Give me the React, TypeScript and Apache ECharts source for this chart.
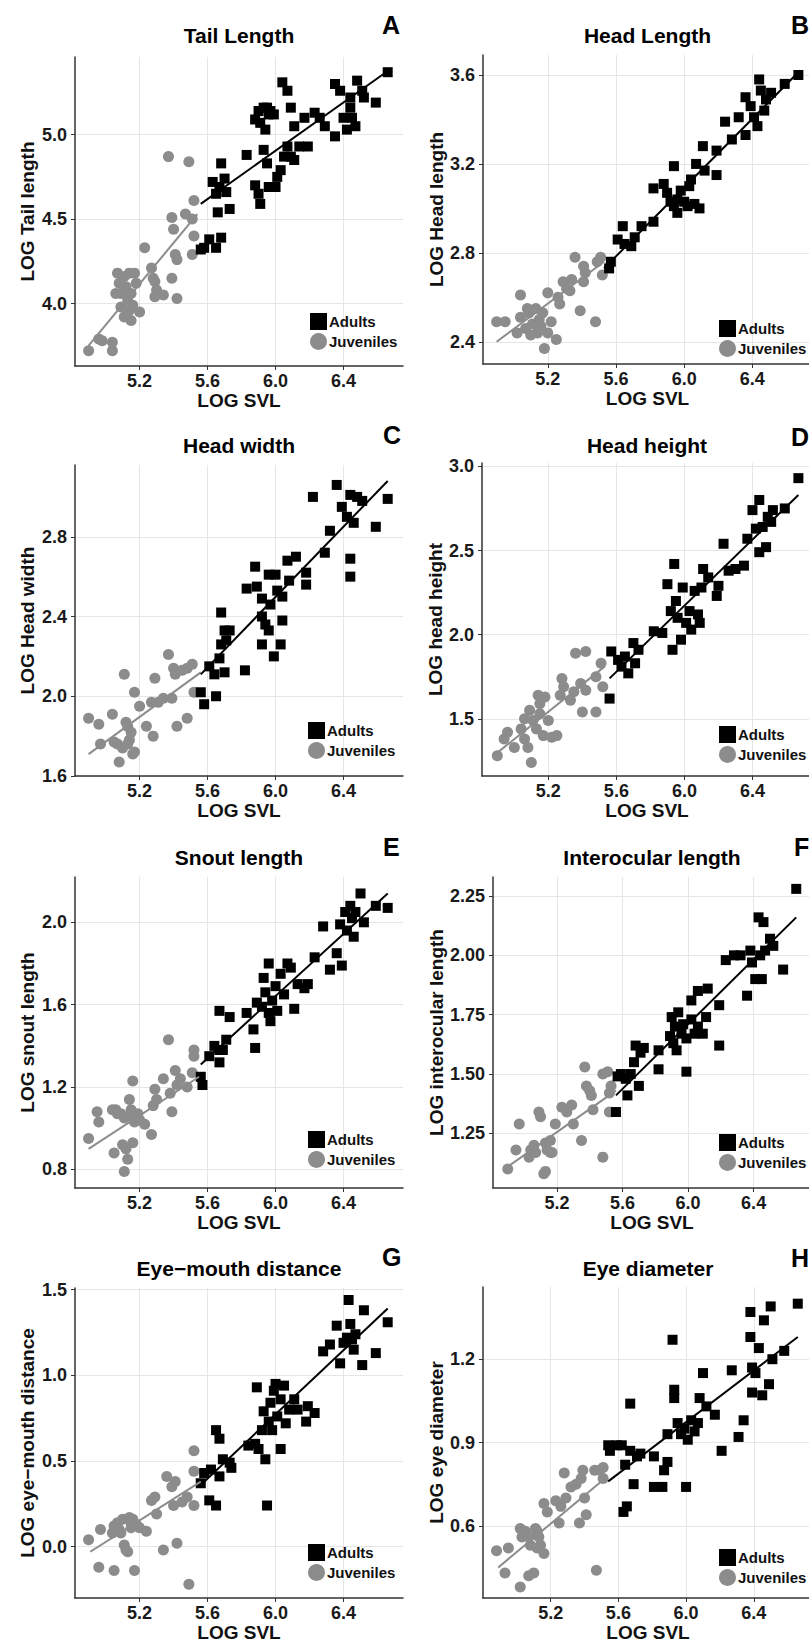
import React, { useEffect, useRef } from 'react';
import * as echarts from 'echarts';

// ---------- DATA (LOG SVL, LOG trait) ----------
const svlTicks = [5.2, 5.6, 6.0, 6.4];

const tailTicks = [4.0, 4.5, 5.0];
const tailJuveniles = [[4.90,3.72],[4.96,3.79],[4.98,3.78],[5.04,3.77],[5.04,3.72],[5.07,4.18],[5.08,4.12],[5.09,4.06],[5.11,4.16],[5.12,4.10],[5.06,4.06],[5.13,4.02],[5.09,3.98],[5.11,3.92],[5.14,3.96],[5.15,3.90],[5.16,3.99],[5.17,4.18],[5.18,4.12],[5.20,3.95],[5.14,4.18],[5.15,4.06],[5.23,4.33],[5.27,4.21],[5.28,4.15],[5.29,4.13],[5.30,4.08],[5.29,4.04],[5.34,4.05],[5.37,4.87],[5.39,4.51],[5.40,4.44],[5.41,4.29],[5.42,4.26],[5.39,4.15],[5.42,4.03],[5.47,4.53],[5.49,4.84],[5.51,4.50],[5.52,4.61],[5.52,4.40],[5.51,4.29]];
const tailAdults = [[5.56,4.32],[5.58,4.33],[5.61,4.38],[5.65,4.33],[5.68,4.39],[5.66,4.54],[5.73,4.56],[5.63,4.72],[5.67,4.69],[5.70,4.74],[5.71,4.66],[5.68,4.83],[5.65,4.65],[5.83,4.88],[5.88,4.70],[5.90,4.65],[5.91,4.59],[5.93,4.91],[5.95,4.83],[5.96,4.69],[6.00,4.69],[6.01,4.75],[6.03,4.79],[6.05,4.87],[6.07,4.93],[6.09,4.87],[6.11,4.85],[6.14,4.93],[6.19,4.93],[5.88,5.09],[5.90,5.14],[5.93,5.16],[5.95,5.16],[5.97,5.14],[5.91,5.07],[5.94,5.03],[5.96,5.12],[5.99,5.12],[6.04,5.31],[6.07,5.26],[6.09,5.16],[6.11,5.05],[6.17,5.10],[6.23,5.13],[6.26,5.10],[6.29,5.05],[6.35,4.99],[6.35,5.30],[6.38,5.26],[6.40,5.10],[6.42,5.03],[6.44,5.22],[6.44,5.16],[6.45,5.10],[6.47,5.05],[6.48,5.32],[6.51,5.26],[6.52,5.22],[6.59,5.19],[6.66,5.37]];
const tailJuvLine = [[4.90,3.75],[5.54,4.53]];
const tailAdultLine = [[5.56,4.59],[6.65,5.37]];

const headLengthTicks = [2.4, 2.8, 3.2, 3.6];
const headLengthJuveniles = [[4.90,2.49],[4.95,2.49],[5.04,2.61],[5.04,2.51],[5.07,2.46],[5.09,2.53],[5.11,2.48],[5.13,2.55],[5.14,2.44],[5.15,2.50],[5.17,2.53],[5.18,2.37],[5.20,2.62],[5.20,2.44],[5.25,2.41],[5.26,2.60],[5.27,2.57],[5.29,2.67],[5.31,2.64],[5.34,2.68],[5.36,2.78],[5.39,2.54],[5.41,2.67],[5.42,2.71],[5.41,2.74],[5.48,2.49],[5.49,2.76],[5.51,2.78],[5.52,2.70],[5.02,2.44],[5.10,2.43],[5.16,2.47],[5.08,2.55],[5.22,2.49],[5.33,2.63]];
const headLengthAdults = [[5.56,2.73],[5.57,2.76],[5.61,2.86],[5.64,2.92],[5.65,2.84],[5.69,2.83],[5.71,2.87],[5.75,2.92],[5.82,2.94],[5.82,3.09],[5.88,3.11],[5.90,3.07],[5.92,3.03],[5.94,3.19],[5.94,3.01],[5.96,3.04],[5.98,3.08],[6.00,3.03],[6.03,3.10],[6.04,3.13],[6.06,3.02],[6.09,3.00],[6.07,3.20],[6.11,3.28],[6.12,3.17],[6.19,3.15],[6.19,3.26],[6.24,3.39],[6.28,3.31],[6.32,3.41],[6.36,3.33],[6.36,3.50],[6.39,3.46],[6.41,3.41],[6.44,3.58],[6.45,3.53],[6.47,3.44],[6.48,3.49],[6.51,3.52],[6.59,3.56],[6.67,3.60],[6.43,3.37],[5.96,2.98],[6.02,3.01]];
const headLengthJuvLine = [[4.90,2.40],[5.53,2.76]];
const headLengthAdultLine = [[5.53,2.73],[6.68,3.62]];

const headWidthTicks = [1.6, 2.0, 2.4, 2.8];
const headWidthJuveniles = [[4.90,1.89],[4.96,1.86],[4.97,1.76],[5.04,1.91],[5.05,1.77],[5.08,1.67],[5.10,1.74],[5.11,2.11],[5.12,1.87],[5.13,1.85],[5.14,1.78],[5.16,1.71],[5.17,1.72],[5.17,2.02],[5.20,1.95],[5.24,1.85],[5.28,1.80],[5.29,2.09],[5.27,1.97],[5.31,1.97],[5.34,1.99],[5.37,2.21],[5.39,1.99],[5.40,2.14],[5.41,2.11],[5.42,1.85],[5.45,2.13],[5.48,1.89],[5.51,2.16],[5.52,2.02],[5.48,2.14],[5.07,1.76],[5.15,1.82],[5.13,1.76]];
const headWidthAdults = [[5.56,2.02],[5.58,1.96],[5.61,2.15],[5.64,2.11],[5.65,2.00],[5.67,2.19],[5.68,2.42],[5.68,2.26],[5.70,2.33],[5.73,2.33],[5.71,2.28],[5.70,2.12],[5.82,2.13],[5.83,2.54],[5.88,2.65],[5.89,2.55],[5.92,2.49],[5.92,2.26],[5.92,2.40],[5.94,2.36],[5.96,2.33],[5.96,2.61],[5.97,2.46],[5.99,2.20],[6.00,2.61],[6.03,2.26],[6.04,2.38],[6.04,2.50],[6.07,2.68],[6.08,2.58],[6.12,2.70],[6.18,2.62],[6.18,2.56],[6.22,3.00],[6.29,2.72],[6.32,2.83],[6.36,3.06],[6.39,2.95],[6.42,2.90],[6.44,2.69],[6.44,2.60],[6.46,2.87],[6.44,3.01],[6.48,3.00],[6.51,2.98],[6.59,2.85],[6.66,2.99],[6.01,2.53]];
const headWidthJuvLine = [[4.90,1.71],[5.56,2.12]];
const headWidthAdultLine = [[5.56,2.11],[6.66,3.08]];

const headHeightTicks = [1.5, 2.0, 2.5, 3.0];
const headHeightJuveniles = [[4.90,1.28],[4.96,1.42],[4.94,1.38],[5.00,1.33],[5.04,1.44],[5.06,1.38],[5.08,1.33],[5.10,1.24],[5.09,1.55],[5.11,1.49],[5.13,1.44],[5.14,1.64],[5.15,1.53],[5.17,1.40],[5.18,1.63],[5.20,1.49],[5.25,1.40],[5.27,1.64],[5.28,1.74],[5.29,1.69],[5.33,1.61],[5.35,1.66],[5.36,1.89],[5.39,1.71],[5.40,1.54],[5.42,1.90],[5.42,1.67],[5.48,1.54],[5.48,1.75],[5.51,1.83],[5.52,1.69],[5.06,1.50],[5.15,1.59],[5.22,1.39]];
const headHeightAdults = [[5.56,1.62],[5.57,1.90],[5.61,1.85],[5.63,1.81],[5.65,1.87],[5.67,1.77],[5.70,1.95],[5.71,1.83],[5.73,1.91],[5.82,2.02],[5.87,2.01],[5.90,2.30],[5.92,2.14],[5.93,1.91],[5.94,2.42],[5.95,2.20],[5.96,2.10],[5.98,1.97],[5.99,2.28],[6.01,2.07],[6.03,2.14],[6.04,2.03],[6.06,2.26],[6.08,2.12],[6.09,2.07],[6.10,2.28],[6.11,2.39],[6.14,2.34],[6.19,2.23],[6.23,2.54],[6.26,2.38],[6.30,2.39],[6.35,2.41],[6.37,2.57],[6.40,2.74],[6.42,2.63],[6.44,2.80],[6.44,2.49],[6.46,2.64],[6.48,2.52],[6.49,2.70],[6.51,2.67],[6.52,2.74],[6.59,2.75],[6.67,2.93],[6.20,2.29]];
const headHeightJuvLine = [[4.89,1.29],[5.53,1.81]];
const headHeightAdultLine = [[5.56,1.74],[6.67,2.83]];

const snoutTicks = [0.8, 1.2, 1.6, 2.0];
const snoutJuveniles = [[4.90,0.95],[4.95,1.08],[4.96,1.03],[5.04,1.09],[5.05,0.88],[5.06,1.09],[5.09,1.07],[5.10,0.92],[5.11,0.79],[5.12,0.90],[5.13,0.85],[5.14,1.14],[5.14,1.06],[5.15,1.09],[5.16,1.23],[5.16,0.93],[5.17,1.03],[5.19,1.07],[5.23,1.02],[5.27,0.97],[5.28,1.11],[5.29,1.19],[5.30,1.14],[5.34,1.24],[5.37,1.43],[5.38,1.17],[5.39,1.08],[5.41,1.28],[5.42,1.21],[5.44,1.24],[5.48,1.20],[5.51,1.27],[5.52,1.38],[5.52,1.35],[5.07,1.07],[5.20,1.04],[5.11,1.05]];
const snoutAdults = [[5.56,1.25],[5.57,1.21],[5.61,1.35],[5.64,1.40],[5.67,1.38],[5.67,1.32],[5.67,1.57],[5.69,1.38],[5.73,1.54],[5.71,1.43],[5.83,1.56],[5.87,1.48],[5.88,1.39],[5.89,1.61],[5.92,1.59],[5.93,1.73],[5.94,1.66],[5.96,1.80],[5.96,1.56],[5.97,1.52],[5.98,1.62],[6.00,1.69],[6.01,1.57],[6.03,1.75],[6.05,1.65],[6.07,1.80],[6.09,1.78],[6.11,1.58],[6.13,1.70],[6.17,1.68],[6.19,1.70],[6.23,1.83],[6.28,1.98],[6.32,1.77],[6.36,1.85],[6.39,1.79],[6.38,1.99],[6.41,2.05],[6.42,1.96],[6.44,2.08],[6.46,1.93],[6.47,2.05],[6.50,2.14],[6.52,2.00],[6.59,2.08],[6.66,2.07],[6.45,2.02]];
const snoutJuvLine = [[4.90,0.90],[5.55,1.25]];
const snoutAdultLine = [[5.56,1.31],[6.66,2.14]];

const interocularTicks = [1.25, 1.5, 1.75, 2.0, 2.25];
const interocularJuveniles = [[4.90,1.10],[4.95,1.18],[4.97,1.29],[5.03,1.15],[5.04,1.18],[5.07,1.17],[5.09,1.34],[5.10,1.32],[5.12,1.08],[5.13,1.21],[5.14,1.18],[5.16,1.17],[5.16,1.22],[5.17,1.17],[5.19,1.29],[5.23,1.36],[5.26,1.34],[5.29,1.37],[5.30,1.29],[5.35,1.22],[5.37,1.53],[5.38,1.45],[5.40,1.43],[5.41,1.41],[5.42,1.35],[5.48,1.15],[5.48,1.50],[5.51,1.51],[5.52,1.34],[5.53,1.45],[5.52,1.42],[5.06,1.20],[5.13,1.09]];
const interocularAdults = [[5.56,1.34],[5.57,1.49],[5.59,1.50],[5.62,1.48],[5.63,1.41],[5.65,1.50],[5.67,1.55],[5.68,1.62],[5.70,1.45],[5.71,1.59],[5.73,1.61],[5.82,1.60],[5.82,1.52],[5.89,1.66],[5.90,1.74],[5.91,1.63],[5.92,1.70],[5.93,1.60],[5.94,1.76],[5.96,1.67],[5.97,1.71],[5.99,1.51],[5.99,1.65],[6.02,1.81],[6.02,1.73],[6.04,1.67],[6.06,1.85],[6.06,1.70],[6.09,1.67],[6.11,1.74],[6.12,1.86],[6.19,1.79],[6.19,1.62],[6.23,1.98],[6.28,2.00],[6.32,2.00],[6.36,1.83],[6.38,2.02],[6.39,1.97],[6.41,1.90],[6.43,2.16],[6.45,1.90],[6.46,2.14],[6.47,2.02],[6.50,2.07],[6.52,2.04],[6.58,1.94],[6.66,2.28],[6.44,2.00]];
const interocularJuvLine = [[4.90,1.11],[5.56,1.43]];
const interocularAdultLine = [[5.56,1.41],[6.66,2.16]];

const eyeMouthTicks = [0.0, 0.5, 1.0, 1.5];
const eyeMouthJuveniles = [[4.90,0.04],[4.96,-0.12],[4.97,0.10],[5.05,-0.14],[5.04,0.08],[5.07,0.14],[5.08,0.10],[5.10,0.16],[5.11,0.01],[5.12,-0.02],[5.13,-0.03],[5.14,0.17],[5.15,0.11],[5.16,0.16],[5.17,-0.14],[5.18,0.13],[5.20,0.11],[5.24,0.09],[5.27,0.27],[5.29,0.29],[5.30,0.19],[5.34,-0.02],[5.36,0.41],[5.39,0.35],[5.40,0.24],[5.41,0.38],[5.42,0.02],[5.45,0.26],[5.48,0.29],[5.49,-0.22],[5.52,0.56],[5.52,0.44],[5.52,0.24],[5.09,0.08],[5.15,0.14],[5.05,0.12]];
const eyeMouthAdults = [[5.56,0.37],[5.58,0.43],[5.61,0.27],[5.62,0.45],[5.65,0.24],[5.65,0.68],[5.67,0.63],[5.67,0.41],[5.69,0.51],[5.73,0.49],[5.74,0.46],[5.84,0.59],[5.88,0.60],[5.89,0.93],[5.90,0.57],[5.92,0.68],[5.93,0.79],[5.94,0.51],[5.95,0.24],[5.96,0.73],[5.97,0.84],[5.98,0.68],[5.99,0.91],[6.00,0.95],[6.01,0.76],[6.03,0.57],[6.03,0.86],[6.05,0.94],[6.06,0.72],[6.08,0.80],[6.11,0.86],[6.13,0.80],[6.18,0.73],[6.19,0.82],[6.23,0.78],[6.28,1.14],[6.32,1.18],[6.36,1.29],[6.38,1.07],[6.40,1.19],[6.42,1.22],[6.43,1.44],[6.44,1.30],[6.46,1.15],[6.47,1.24],[6.51,1.06],[6.52,1.38],[6.59,1.13],[6.66,1.31],[6.45,1.21]];
const eyeMouthJuvLine = [[4.91,-0.03],[5.56,0.38]];
const eyeMouthAdultLine = [[5.56,0.36],[6.66,1.39]];

const eyeDiameterTicks = [0.6, 0.9, 1.2];
const eyeDiameterJuveniles = [[4.88,0.51],[4.93,0.43],[4.95,0.52],[5.02,0.38],[5.02,0.59],[5.03,0.56],[5.05,0.58],[5.07,0.42],[5.08,0.53],[5.10,0.43],[5.11,0.59],[5.12,0.52],[5.13,0.56],[5.14,0.53],[5.16,0.50],[5.16,0.68],[5.18,0.65],[5.23,0.69],[5.25,0.61],[5.26,0.67],[5.28,0.79],[5.29,0.70],[5.32,0.74],[5.35,0.75],[5.37,0.61],[5.38,0.77],[5.39,0.80],[5.40,0.70],[5.41,0.64],[5.47,0.44],[5.46,0.80],[5.49,0.80],[5.51,0.81],[5.51,0.77],[5.07,0.56],[5.12,0.58]];
const eyeDiameterAdults = [[5.54,0.89],[5.55,0.87],[5.59,0.89],[5.62,0.89],[5.63,0.65],[5.65,0.67],[5.64,0.82],[5.67,1.04],[5.67,0.87],[5.69,0.75],[5.71,0.85],[5.73,0.86],[5.81,0.85],[5.81,0.74],[5.86,0.74],[5.87,0.80],[5.89,0.83],[5.89,0.93],[5.92,1.27],[5.93,1.09],[5.93,1.06],[5.95,0.97],[5.97,0.93],[5.99,0.95],[6.00,0.74],[6.01,0.91],[6.03,0.98],[6.05,0.94],[6.07,0.97],[6.08,1.06],[6.10,1.15],[6.12,1.03],[6.17,1.00],[6.21,0.87],[6.27,1.16],[6.31,0.92],[6.34,0.98],[6.38,1.37],[6.38,1.28],[6.39,1.08],[6.41,1.15],[6.43,1.24],[6.45,1.07],[6.46,1.34],[6.49,1.11],[6.50,1.39],[6.51,1.20],[6.58,1.23],[6.66,1.40],[6.39,1.17]];
const eyeDiameterJuvLine = [[4.89,0.45],[5.52,0.77]];
const eyeDiameterAdultLine = [[5.54,0.76],[6.66,1.28]];

// ---------- PANEL SETUP ----------
const panels = [
  { letter: 'A', title: 'Tail Length', yName: 'LOG Tail length', juv: tailJuveniles, adu: tailAdults, juvLine: tailJuvLine, aduLine: tailAdultLine, yTicks: tailTicks, dec: 1,
    box: [75, 57, 328, 309], x: [4.82, 6.75], y: [3.63, 5.46], titleY: 35, letterPos: [382, 25], legendPos: [310, 313], yNameGap: 38 },
  { letter: 'B', title: 'Head Length', yName: 'LOG Head length', juv: headLengthJuveniles, adu: headLengthAdults, juvLine: headLengthJuvLine, aduLine: headLengthAdultLine, yTicks: headLengthTicks, dec: 1,
    box: [483, 55, 329, 309], x: [4.82, 6.75], y: [2.30, 3.69], titleY: 35, letterPos: [791, 25], legendPos: [719, 320], yNameGap: 37 },
  { letter: 'C', title: 'Head width', yName: 'LOG Head width', juv: headWidthJuveniles, adu: headWidthAdults, juvLine: headWidthJuvLine, aduLine: headWidthAdultLine, yTicks: headWidthTicks, dec: 1,
    box: [75, 465, 328, 311], x: [4.82, 6.75], y: [1.6, 3.16], titleY: 445, letterPos: [383, 435], legendPos: [308, 722], yNameGap: 38 },
  { letter: 'D', title: 'Head height', yName: 'LOG head height', juv: headHeightJuveniles, adu: headHeightAdults, juvLine: headHeightJuvLine, aduLine: headHeightAdultLine, yTicks: headHeightTicks, dec: 1,
    box: [482, 463, 330, 313], x: [4.81, 6.75], y: [1.16, 3.02], titleY: 445, letterPos: [791, 437], legendPos: [719, 726], yNameGap: 36 },
  { letter: 'E', title: 'Snout length', yName: 'LOG snout length', juv: snoutJuveniles, adu: snoutAdults, juvLine: snoutJuvLine, aduLine: snoutAdultLine, yTicks: snoutTicks, dec: 1,
    box: [75, 877, 328, 311], x: [4.82, 6.75], y: [0.71, 2.22], titleY: 857, letterPos: [383, 847], legendPos: [308, 1131], yNameGap: 38 },
  { letter: 'F', title: 'Interocular length', yName: 'LOG interocular length', juv: interocularJuveniles, adu: interocularAdults, juvLine: interocularJuvLine, aduLine: interocularAdultLine, yTicks: interocularTicks, dec: 2,
    box: [493, 877, 318, 311], x: [4.81, 6.75], y: [1.02, 2.33], titleY: 857, letterPos: [794, 847], legendPos: [719, 1134], yNameGap: 47 },
  { letter: 'G', title: 'Eye\u2212mouth distance', yName: 'LOG eye\u2212mouth distance', juv: eyeMouthJuveniles, adu: eyeMouthAdults, juvLine: eyeMouthJuvLine, aduLine: eyeMouthAdultLine, yTicks: eyeMouthTicks, dec: 1,
    box: [75, 1288, 328, 310], x: [4.82, 6.75], y: [-0.30, 1.51], titleY: 1268, letterPos: [382, 1257], legendPos: [308, 1544], yNameGap: 38 },
  { letter: 'H', title: 'Eye diameter', yName: 'LOG eye diameter', juv: eyeDiameterJuveniles, adu: eyeDiameterAdults, juvLine: eyeDiameterJuvLine, aduLine: eyeDiameterAdultLine, yTicks: eyeDiameterTicks, dec: 1,
    box: [483, 1287, 330, 311], x: [4.80, 6.75], y: [0.34, 1.46], titleY: 1268, letterPos: [791, 1258], legendPos: [719, 1549], yNameGap: 37 },
];

const FONT = '"Liberation Sans", Arial, Helvetica, sans-serif';
const TEXT = '#111111';
const GRAY = '#8c8c8c';
const GRIDLINE = '#e6e6e6';
const AXIS = '#333333';

function buildOption() {
  const grid = panels.map((p) => ({
    left: p.box[0], top: p.box[1], width: p.box[2], height: p.box[3],
    containLabel: false, outerBoundsMode: 'none', backgroundColor: '#fff',
  }));
  const xAxis = panels.map((p, i) => ({
    gridIndex: i, type: 'value', min: p.x[0], max: p.x[1],
    name: 'LOG SVL', nameLocation: 'middle', nameGap: 24,
    nameTextStyle: { fontFamily: FONT, fontWeight: 'bold', fontSize: 19, color: TEXT },
    axisLine: { show: true, onZero: false, lineStyle: { color: AXIS, width: 1.5 } },
    axisTick: { show: true, length: 4, customValues: svlTicks, lineStyle: { color: AXIS } },
    axisLabel: { customValues: svlTicks, margin: 6, formatter: (v: number) => v.toFixed(1),
      fontFamily: FONT, fontWeight: 'bold', fontSize: 18, color: '#1a1a1a' },
    splitLine: { show: true, lineStyle: { color: GRIDLINE, width: 1 } },
  }));
  const yAxis = panels.map((p, i) => ({
    gridIndex: i, type: 'value', min: p.y[0], max: p.y[1],
    name: p.yName, nameLocation: 'middle', nameGap: p.yNameGap,
    nameTextStyle: { fontFamily: FONT, fontWeight: 'bold', fontSize: 19, color: TEXT },
    axisLine: { show: true, onZero: false, lineStyle: { color: AXIS, width: 1.5 } },
    axisTick: { show: true, length: 4, customValues: p.yTicks, lineStyle: { color: AXIS } },
    axisLabel: { customValues: p.yTicks, margin: 8, formatter: (v: number) => v.toFixed(p.dec),
      fontFamily: FONT, fontWeight: 'bold', fontSize: 18, color: '#1a1a1a' },
    splitLine: { show: true, lineStyle: { color: GRIDLINE, width: 1 } },
  }));
  const series: any[] = [];
  panels.forEach((p, i) => {
    series.push({ type: 'scatter', name: 'Juveniles', xAxisIndex: i, yAxisIndex: i, data: p.juv,
      symbol: 'circle', symbolSize: 11, itemStyle: { color: GRAY, opacity: 1 }, silent: true });
    series.push({ type: 'scatter', name: 'Adults', xAxisIndex: i, yAxisIndex: i, data: p.adu,
      symbol: 'rect', symbolSize: 10, itemStyle: { color: '#000', opacity: 1 }, silent: true });
    series.push({ type: 'line', name: 'Juvenile fit', xAxisIndex: i, yAxisIndex: i, data: p.juvLine,
      symbol: 'none', lineStyle: { color: GRAY, width: 2 }, silent: true });
    series.push({ type: 'line', name: 'Adult fit', xAxisIndex: i, yAxisIndex: i, data: p.aduLine,
      symbol: 'none', lineStyle: { color: '#000', width: 2 }, silent: true });
  });
  const legend = panels.map((p) => ({
    orient: 'vertical', left: p.legendPos[0], top: p.legendPos[1], padding: 0,
    itemWidth: 17, itemHeight: 17, itemGap: 3, selectedMode: false,
    data: [{ name: 'Adults', icon: 'rect' }, { name: 'Juveniles', icon: 'circle' }],
    textStyle: { fontFamily: FONT, fontWeight: 'bold', fontSize: 15, color: TEXT, padding: [0, 0, 0, -3] },
  }));
  const elements: any[] = [];
  panels.forEach((p) => {
    elements.push({ type: 'text', x: p.box[0] + p.box[2] / 2, y: p.titleY, silent: true,
      style: { text: p.title, fill: '#000', font: `bold 21px ${FONT}`,
        textAlign: 'center', textVerticalAlign: 'middle', align: 'center', verticalAlign: 'middle' } });
    elements.push({ type: 'text', x: p.letterPos[0], y: p.letterPos[1], silent: true,
      style: { text: p.letter, fill: '#000', font: `bold 25px ${FONT}`,
        textAlign: 'left', textVerticalAlign: 'middle', align: 'left', verticalAlign: 'middle' } });
  });
  return {
    animation: false,
    backgroundColor: '#ffffff',
    grid, xAxis, yAxis, series, legend,
    graphic: { elements },
  };
}

export default function App() {
  const ref = useRef<HTMLDivElement>(null);
  useEffect(() => {
    if (!ref.current) return;
    const chart = echarts.init(ref.current, null, { renderer: 'svg' });
    chart.setOption(buildOption() as any);
    return () => chart.dispose();
  }, []);
  return (
    <div
      ref={ref}
      style={{ position: 'absolute', left: 0, top: 0, width: 809, height: 1646, background: '#fff', overflow: 'hidden' }}
    />
  );
}
